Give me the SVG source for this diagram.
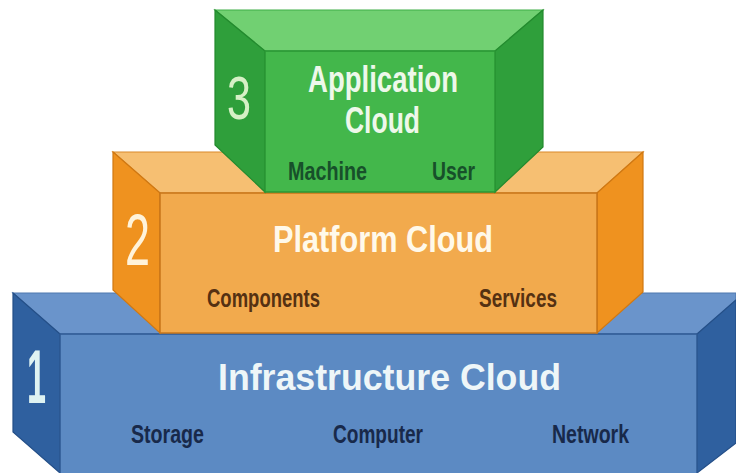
<svg xmlns="http://www.w3.org/2000/svg" width="736" height="473" viewBox="0 0 736 473">
<style>
.lbl{font-family:"Liberation Sans",Arial,sans-serif;font-weight:bold;}
.title{font-size:37px;}
.sub{font-size:25px;}
.num{font-family:"Liberation Sans",Arial,sans-serif;font-weight:normal;}
.num.bold{font-weight:bold;}
.g-top{fill:#71d072;stroke:#3fae47;stroke-width:1.2;}
.g-front{fill:#43b74b;stroke:#2a9735;stroke-width:1.5;}
.g-side{fill:#2f9f3b;stroke:#238a2e;stroke-width:1.2;}
.o-top{fill:#f6bf72;stroke:#d98a2a;stroke-width:1.2;}
.o-front{fill:#f2aa4d;stroke:#c8761a;stroke-width:1.5;}
.o-side{fill:#ef921f;stroke:#d07812;stroke-width:1.2;}
.b-top{fill:#6a94cb;stroke:#4f79b0;stroke-width:1.2;}
.b-front{fill:#5c8ac3;stroke:#2e5a94;stroke-width:1.5;}
.b-side{fill:#2f609f;stroke:#244f88;stroke-width:1.2;}
</style>
<rect x="0" y="0" width="736" height="473" fill="#ffffff"/>

<g id="infrastructure-cloud">
  <polygon class="b-top" points="13,293 736,293 736,300 697,334 60,334"/>
  <polygon class="b-side" points="13,293 60,334 60,473 13,432"/>
  <polygon class="b-side" points="736,300 697,334 697,473 736,443"/>
  <rect class="b-front" x="60" y="334" width="637" height="142"/>
  <text class="num bold" x="27" y="403" font-size="76" fill="#dff3f2" textLength="19" lengthAdjust="spacingAndGlyphs">1</text>
  <text class="lbl title" x="218" y="390" font-size="38" fill="#eef6f8" textLength="343" lengthAdjust="spacingAndGlyphs">Infrastructure Cloud</text>
  <text class="lbl sub" x="131" y="443" fill="#18294a" textLength="73" lengthAdjust="spacingAndGlyphs">Storage</text>
  <text class="lbl sub" x="333" y="443" fill="#18294a" textLength="90" lengthAdjust="spacingAndGlyphs">Computer</text>
  <text class="lbl sub" x="552" y="443" fill="#18294a" textLength="77" lengthAdjust="spacingAndGlyphs">Network</text>
</g>

<g id="platform-cloud">
  <polygon class="o-top" points="113,152 643,152 597,193 160,193"/>
  <polygon class="o-side" points="113,152 160,193 160,333 113,290"/>
  <polygon class="o-side" points="643,152 597,193 597,333 643,292"/>
  <rect class="o-front" x="160" y="193" width="437" height="140"/>
  <text class="num" x="125" y="265" font-size="72" fill="#fff3da" textLength="25" lengthAdjust="spacingAndGlyphs">2</text>
  <text class="lbl title" x="273" y="252" fill="#fff9ea" textLength="220" lengthAdjust="spacingAndGlyphs">Platform Cloud</text>
  <text class="lbl sub" x="207" y="307" fill="#553112" textLength="113" lengthAdjust="spacingAndGlyphs">Components</text>
  <text class="lbl sub" x="479" y="307" fill="#553112" textLength="78" lengthAdjust="spacingAndGlyphs">Services</text>
</g>

<g id="application-cloud">
  <polygon class="g-top" points="215,10 543,10 495,51 265,51"/>
  <polygon class="g-side" points="215,10 265,51 265,192 215,145"/>
  <polygon class="g-side" points="543,10 495,51 495,192 543,147"/>
  <rect class="g-front" x="265" y="51" width="230" height="141"/>
  <text class="num" x="227" y="119" font-size="62" fill="#d6f0c6" textLength="24" lengthAdjust="spacingAndGlyphs">3</text>
  <text class="lbl title" x="308" y="92" fill="#eef8ea" textLength="150" lengthAdjust="spacingAndGlyphs">Application</text>
  <text class="lbl title" x="345" y="133" fill="#eef8ea" textLength="75" lengthAdjust="spacingAndGlyphs">Cloud</text>
  <text class="lbl sub" x="288" y="180" fill="#17502a" textLength="79" lengthAdjust="spacingAndGlyphs">Machine</text>
  <text class="lbl sub" x="432" y="180" fill="#17502a" textLength="43" lengthAdjust="spacingAndGlyphs">User</text>
</g>
</svg>
